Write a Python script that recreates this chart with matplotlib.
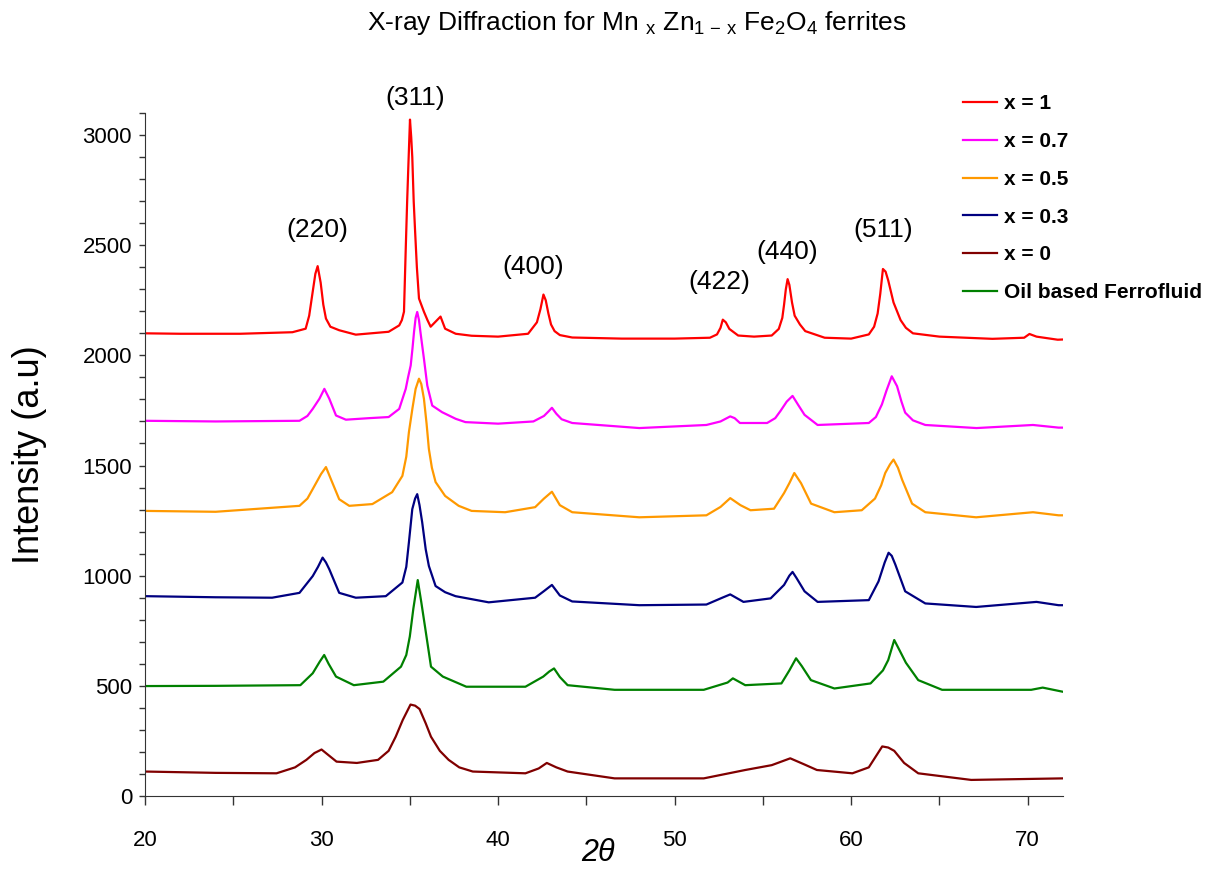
import matplotlib
matplotlib.use("Agg")
import matplotlib.pyplot as plt
from matplotlib.ticker import MultipleLocator

plt.rcParams['font.family'] = ['Liberation Sans', 'DejaVu Sans']
plt.rcParams['mathtext.fontset'] = 'custom'
plt.rcParams['mathtext.rm'] = 'Liberation Sans'
plt.rcParams['mathtext.it'] = 'Liberation Sans:italic'

# ---------------- data (2theta, intensity) ----------------
x1_tt = [20.0, 22.0, 25.4, 28.35, 29.1, 29.3, 29.5, 29.65, 29.78, 29.95, 30.1, 30.25, 30.5, 31.0,
         31.94, 33.8, 34.4, 34.55, 34.67, 34.77, 34.85, 34.92, 35.01, 35.08, 35.14, 35.22, 35.3,
         35.4, 35.52, 35.65, 35.8, 36.0, 36.18, 36.46, 36.74, 37.0, 37.6, 38.5, 40.0, 41.7,
         42.2, 42.4, 42.57, 42.7, 42.85, 43.0, 43.2, 43.5, 44.2, 47.0, 50.0, 52.0, 52.4, 52.6,
         52.73, 52.9, 53.1, 53.6, 54.5, 55.5, 55.9, 56.1, 56.2, 56.3, 56.4, 56.5, 56.65, 56.8,
         57.1, 57.4, 58.5, 60.0, 61.0, 61.3, 61.5, 61.65, 61.8, 61.95, 62.1, 62.25, 62.4, 62.6,
         62.8, 63.1, 63.5, 65.0, 68.0, 69.8, 70.1, 70.5, 71.7, 72.0]
x1_int = [2100, 2098, 2098, 2105, 2121, 2180, 2289, 2370, 2405, 2330, 2230, 2167, 2130, 2114,
          2094, 2107, 2136, 2160, 2198, 2485, 2700, 2865, 3070, 2990, 2900, 2700, 2563,
          2400, 2258, 2230, 2198, 2160, 2130, 2153, 2176, 2121, 2098, 2089, 2085, 2098,
          2150, 2210, 2276, 2250, 2190, 2140, 2110, 2092, 2081, 2076, 2076, 2080, 2095, 2125,
          2162, 2150, 2120, 2090, 2085, 2090, 2120, 2170, 2230, 2300, 2346, 2320, 2240, 2180,
          2140, 2110, 2080, 2076, 2095, 2130, 2190, 2280, 2392, 2380, 2340, 2290, 2240, 2200,
          2160, 2125, 2100, 2085, 2075, 2080, 2097, 2085, 2071, 2072]

x07_tt = [20.0, 24.0, 28.75, 29.2, 29.5, 29.88, 30.16, 30.44, 30.82, 31.38, 32.7, 33.8, 34.4,
          34.77, 34.9, 35.05, 35.15, 35.24, 35.33, 35.42, 35.52, 35.6, 35.8, 35.99, 36.27, 36.83,
          37.6, 38.15, 40.0, 42.0, 42.6, 42.85, 43.05, 43.3, 43.6, 44.2, 48.0, 51.8, 52.6, 53.15,
          53.4, 53.7, 55.24, 55.7, 56.0, 56.35, 56.68, 57.0, 57.36, 58.1, 61.0, 61.4, 61.74,
          62.0, 62.3, 62.6, 62.85, 63.06, 63.5, 64.2, 67.1, 70.3, 71.75, 72.0]
x07_int = [1703, 1700, 1703, 1725, 1757, 1803, 1848, 1803, 1727, 1708, 1715, 1720, 1757,
           1848, 1900, 1954, 2030, 2107, 2170, 2197, 2160, 2107, 1985, 1863, 1772, 1742,
           1712, 1697, 1690, 1700, 1725, 1745, 1762, 1735, 1710, 1693, 1670, 1684, 1700, 1723,
           1715, 1693, 1693, 1715, 1748, 1790, 1816, 1775, 1730, 1684, 1693, 1720, 1777,
           1840, 1905, 1860, 1790, 1740, 1705, 1684, 1670, 1684, 1672, 1672]

x05_tt = [20.0, 24.0, 28.75, 29.2, 29.5, 29.97, 30.25, 30.53, 31.0, 31.57, 32.88, 34.0, 34.58,
          34.8, 34.95, 35.15, 35.33, 35.52, 35.65, 35.8, 35.95, 36.08, 36.25, 36.46, 37.0, 37.77,
          38.5, 40.4, 42.1, 42.6, 43.05, 43.5, 44.2, 48.0, 51.8, 52.6, 53.15, 53.73, 54.3, 55.63,
          56.2, 56.5, 56.78, 57.16, 57.73, 59.05, 60.6, 61.35, 61.7, 61.93, 62.2, 62.4, 62.65,
          62.89, 63.45, 64.2, 67.08, 70.3, 71.75, 72.0]
x05_int = [1294, 1290, 1317, 1350, 1393, 1461, 1493, 1438, 1347, 1317, 1325, 1379, 1453,
           1540, 1652, 1760, 1848, 1894, 1870, 1803, 1690, 1575, 1490, 1425, 1362, 1317,
           1294, 1288, 1311, 1350, 1381, 1320, 1288, 1265, 1274, 1312, 1352, 1320, 1297, 1304,
           1375, 1420, 1466, 1420, 1327, 1288, 1297, 1350, 1410, 1466, 1505, 1527, 1490,
           1435, 1327, 1288, 1265, 1288, 1274, 1274]

x03_tt = [20.0, 24.0, 27.2, 28.75, 29.5, 29.8, 30.06, 30.25, 30.44, 31.0, 31.94, 33.64, 34.58,
          34.8, 34.95, 35.14, 35.3, 35.42, 35.55, 35.7, 35.9, 36.08, 36.46, 37.0, 37.59, 39.47,
          42.1, 42.6, 43.05, 43.5, 44.2, 48.0, 51.8, 52.7, 53.15, 53.9, 55.44, 56.2, 56.5, 56.68,
          56.9, 57.36, 58.1, 61.0, 61.55, 61.9, 62.12, 62.3, 62.5, 63.06, 64.2, 67.08, 70.5,
          71.75, 72.0]
x03_int = [907, 902, 900, 922, 998, 1040, 1082, 1060, 1029, 922, 900, 907, 969,
           1040, 1152, 1302, 1350, 1370, 1320, 1243, 1120, 1044, 953, 925, 907, 879,
           900, 930, 958, 910, 883, 866, 869, 900, 915, 881, 897, 958, 1000, 1017,
           990, 929, 881, 889, 974, 1060, 1104, 1090, 1051, 929, 874, 858, 881,
           866, 866]

x0_tt = [20.0, 24.0, 27.45, 28.5, 29.14, 29.6, 30.0, 30.4, 30.85, 32.0, 33.2, 33.8, 34.2, 34.6,
         35.04, 35.3, 35.55, 35.9, 36.2, 36.7, 37.2, 37.8, 38.57, 41.55, 42.3, 42.76, 43.3,
         43.94, 46.6, 51.65, 54.0, 55.5, 56.55, 57.3, 58.06, 60.07, 61.0, 61.76, 62.1, 62.44,
         63.0, 63.8, 66.8, 72.0]
x0_int = [111, 105, 103, 130, 164, 195, 211, 185, 156, 150, 164, 205, 269, 345,
          415, 410, 395, 330, 269, 205, 164, 130, 111, 103, 125, 150, 130,
          111, 80, 80, 118, 140, 171, 145, 118, 103, 130, 225, 220, 205,
          150, 103, 73, 80]

oil_tt = [20.0, 24.0, 28.8, 29.5, 29.9, 30.15, 30.4, 30.82, 31.83, 33.5, 34.5, 34.8, 35.0, 35.2,
          35.45, 35.65, 35.86, 36.2, 36.87, 38.2, 41.55, 42.56, 42.9, 43.17, 43.5, 43.94, 46.6,
          51.65, 53.0, 53.3, 54.0, 56.05, 56.5, 56.88, 57.2, 57.72, 59.05, 61.1, 61.8, 62.1,
          62.44, 62.75, 63.1, 63.8, 65.15, 70.2, 70.85, 72.0]
oil_int = [499, 500, 503, 557, 610, 640, 600, 542, 503, 519, 587, 640, 724, 850,
           980, 880, 769, 587, 542, 496, 496, 542, 565, 579, 540, 503, 482,
           482, 515, 534, 503, 511, 570, 625, 590, 526, 488, 511, 570, 617,
           708, 660, 605, 526, 482, 482, 492, 473]

series_labels = ['x = 1', 'x = 0.7', 'x = 0.5', 'x = 0.3', 'x = 0', 'Oil based Ferrofluid']
series_colors = ['#FF0000', '#FF00FF', '#FF9900', '#000080', '#800000', '#008000']

peak_labels = ['(311)', '(220)', '(400)', '(422)', '(440)', '(511)']
peak_label_x = [35.3, 29.76, 42.0, 52.56, 56.4, 61.8]
peak_label_y = [3170, 2567, 2403, 2335, 2467, 2567]

# ---------------- figure ----------------
fig = plt.figure(figsize=(12.17, 8.75), dpi=100)
ax = fig.add_axes([145 / 1217, 1 - 796 / 875, (1063 - 145) / 1217, (796 - 113) / 875])

xs = [x1_tt, x07_tt, x05_tt, x03_tt, x0_tt, oil_tt]
ys = [x1_int, x07_int, x05_int, x03_int, x0_int, oil_int]
for tt, inten, lab, col in zip(xs, ys, series_labels, series_colors):
    ax.plot(tt, inten, color=col, lw=1.6, label=lab)

ax.set_xlim(20, 72)
ax.set_ylim(0, 3100)
ax.xaxis.set_major_locator(MultipleLocator(10))
ax.xaxis.set_minor_locator(MultipleLocator(5))
ax.yaxis.set_major_locator(MultipleLocator(500))
ax.yaxis.set_minor_locator(MultipleLocator(100))
ax.tick_params(axis='both', which='both', direction='out', width=1, colors='#333333',
               labelcolor='black', labelsize=16)
ax.tick_params(axis='x', which='both', length=6.5, pad=18)
ax.tick_params(axis='y', which='both', length=4.3, pad=5)
for s in ['top', 'right']:
    ax.spines[s].set_visible(False)
for s in ['left', 'bottom']:
    ax.spines[s].set_color('#333333')

for lab, px, py in zip(peak_labels, peak_label_x, peak_label_y):
    ax.text(px, py, lab, fontsize=19, ha='center', va='center')

fig.text(30 / 1217, 1 - 455 / 875, 'Intensity (a.u)', rotation=90, fontsize=26,
         ha='center', va='center')
fig.text(598 / 1217, 1 - 853 / 875, '2θ', fontsize=22, style='italic', ha='center', va='center')
fig.text(637 / 1217, 1 - 23 / 875,
         r'X-ray Diffraction for Mn $_{\rm x}$ Zn$_{\rm 1\,-\,x}$ Fe$_{\rm 2}$O$_{\rm 4}$ ferrites',
         fontsize=19, ha='center', va='center')

leg = ax.legend(loc='upper left', bbox_to_anchor=(955 / 1217, 1 - 86 / 875),
                bbox_transform=fig.transFigure, frameon=False,
                prop={'weight': 'bold', 'size': 15}, handlelength=1.6,
                handletextpad=0.35, labelspacing=0.9, borderaxespad=0)

fig.savefig('out.png', dpi=100)
